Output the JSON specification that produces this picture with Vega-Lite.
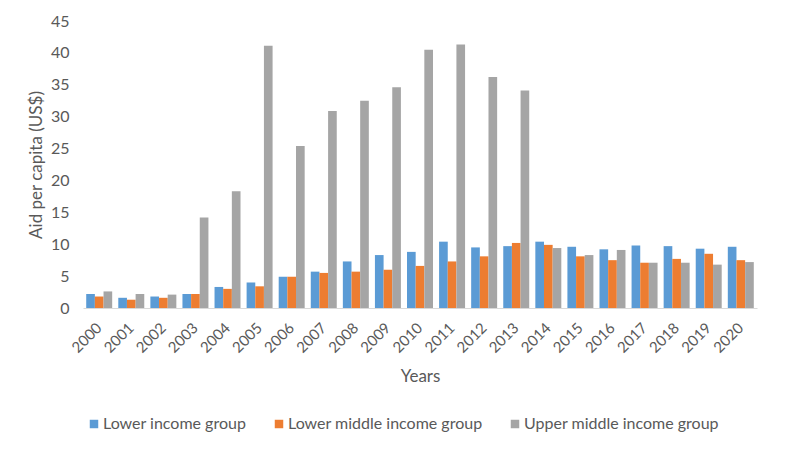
{
  "$schema": "https://vega.github.io/schema/vega-lite/v6.json",
  "autosize": {"type": "none"},
  "padding": {"left": 83, "top": 21, "right": 41, "bottom": 144},
  "width": 674,
  "height": 287,
  "background": "white",
  "config": {
    "view": {"stroke": null},
    "font": "Lato",
    "axis": {"labelFont": "Lato", "titleFont": "Lato", "labelColor": "#595959", "titleColor": "#595959", "titleFontWeight": "normal"},
    "legend": {"labelFont": "Lato", "labelColor": "#595959"}
  },
  "data": {
    "values": [
      {"year": "2000", "group": "Lower income group", "value": 2.2},
      {"year": "2000", "group": "Lower middle income group", "value": 1.8},
      {"year": "2000", "group": "Upper middle income group", "value": 2.6},
      {"year": "2001", "group": "Lower income group", "value": 1.6},
      {"year": "2001", "group": "Lower middle income group", "value": 1.3},
      {"year": "2001", "group": "Upper middle income group", "value": 2.2},
      {"year": "2002", "group": "Lower income group", "value": 1.8},
      {"year": "2002", "group": "Lower middle income group", "value": 1.6},
      {"year": "2002", "group": "Upper middle income group", "value": 2.1},
      {"year": "2003", "group": "Lower income group", "value": 2.2},
      {"year": "2003", "group": "Lower middle income group", "value": 2.2},
      {"year": "2003", "group": "Upper middle income group", "value": 14.2},
      {"year": "2004", "group": "Lower income group", "value": 3.3},
      {"year": "2004", "group": "Lower middle income group", "value": 3.0},
      {"year": "2004", "group": "Upper middle income group", "value": 18.3},
      {"year": "2005", "group": "Lower income group", "value": 4.0},
      {"year": "2005", "group": "Lower middle income group", "value": 3.4},
      {"year": "2005", "group": "Upper middle income group", "value": 41.1},
      {"year": "2006", "group": "Lower income group", "value": 4.9},
      {"year": "2006", "group": "Lower middle income group", "value": 4.9},
      {"year": "2006", "group": "Upper middle income group", "value": 25.4},
      {"year": "2007", "group": "Lower income group", "value": 5.7},
      {"year": "2007", "group": "Lower middle income group", "value": 5.5},
      {"year": "2007", "group": "Upper middle income group", "value": 30.9},
      {"year": "2008", "group": "Lower income group", "value": 7.3},
      {"year": "2008", "group": "Lower middle income group", "value": 5.7},
      {"year": "2008", "group": "Upper middle income group", "value": 32.5},
      {"year": "2009", "group": "Lower income group", "value": 8.3},
      {"year": "2009", "group": "Lower middle income group", "value": 6.0},
      {"year": "2009", "group": "Upper middle income group", "value": 34.6},
      {"year": "2010", "group": "Lower income group", "value": 8.8},
      {"year": "2010", "group": "Lower middle income group", "value": 6.6},
      {"year": "2010", "group": "Upper middle income group", "value": 40.5},
      {"year": "2011", "group": "Lower income group", "value": 10.4},
      {"year": "2011", "group": "Lower middle income group", "value": 7.3},
      {"year": "2011", "group": "Upper middle income group", "value": 41.3},
      {"year": "2012", "group": "Lower income group", "value": 9.5},
      {"year": "2012", "group": "Lower middle income group", "value": 8.1},
      {"year": "2012", "group": "Upper middle income group", "value": 36.2},
      {"year": "2013", "group": "Lower income group", "value": 9.7},
      {"year": "2013", "group": "Lower middle income group", "value": 10.2},
      {"year": "2013", "group": "Upper middle income group", "value": 34.1},
      {"year": "2014", "group": "Lower income group", "value": 10.4},
      {"year": "2014", "group": "Lower middle income group", "value": 9.9},
      {"year": "2014", "group": "Upper middle income group", "value": 9.4},
      {"year": "2015", "group": "Lower income group", "value": 9.6},
      {"year": "2015", "group": "Lower middle income group", "value": 8.1},
      {"year": "2015", "group": "Upper middle income group", "value": 8.3},
      {"year": "2016", "group": "Lower income group", "value": 9.2},
      {"year": "2016", "group": "Lower middle income group", "value": 7.5},
      {"year": "2016", "group": "Upper middle income group", "value": 9.1},
      {"year": "2017", "group": "Lower income group", "value": 9.8},
      {"year": "2017", "group": "Lower middle income group", "value": 7.1},
      {"year": "2017", "group": "Upper middle income group", "value": 7.1},
      {"year": "2018", "group": "Lower income group", "value": 9.7},
      {"year": "2018", "group": "Lower middle income group", "value": 7.7},
      {"year": "2018", "group": "Upper middle income group", "value": 7.1},
      {"year": "2019", "group": "Lower income group", "value": 9.3},
      {"year": "2019", "group": "Lower middle income group", "value": 8.5},
      {"year": "2019", "group": "Upper middle income group", "value": 6.8},
      {"year": "2020", "group": "Lower income group", "value": 9.6},
      {"year": "2020", "group": "Lower middle income group", "value": 7.5},
      {"year": "2020", "group": "Upper middle income group", "value": 7.2}
    ]
  },
  "mark": {"type": "bar"},
  "encoding": {
    "x": {
      "field": "year", "type": "nominal", "title": "Years",
      "scale": {"paddingInner": 0.19, "paddingOuter": 0.1},
      "axis": {"labelAngle": -45, "labelAlign": "right", "labelBaseline": "middle", "labelFontSize": 15, "labelPadding": 17, "ticks": false, "domainColor": "#d9d9d9", "titleFontSize": 17, "titlePadding": 13}
    },
    "xOffset": {"field": "group", "type": "nominal", "sort": ["Lower income group", "Lower middle income group", "Upper middle income group"]},
    "y": {
      "field": "value", "type": "quantitative", "title": "Aid per capita (US$)",
      "scale": {"domain": [0, 45]},
      "axis": {"values": [0, 5, 10, 15, 20, 25, 30, 35, 40, 45], "grid": false, "domain": false, "ticks": false, "labelFontSize": 16, "labelPadding": 14, "titleFontSize": 17, "titlePadding": 5}
    },
    "color": {
      "field": "group", "type": "nominal",
      "sort": ["Lower income group", "Lower middle income group", "Upper middle income group"],
      "scale": {"range": ["#5b9bd5", "#ed7d31", "#a5a5a5"]},
      "legend": {"title": null, "orient": "none", "direction": "horizontal", "legendX": 3, "legendY": 395, "symbolType": "square", "symbolSize": 72, "symbolStrokeWidth": 0, "labelFontSize": 16, "labelLimit": 0, "columnPadding": 24, "labelOffset": 1}
    }
  }
}
